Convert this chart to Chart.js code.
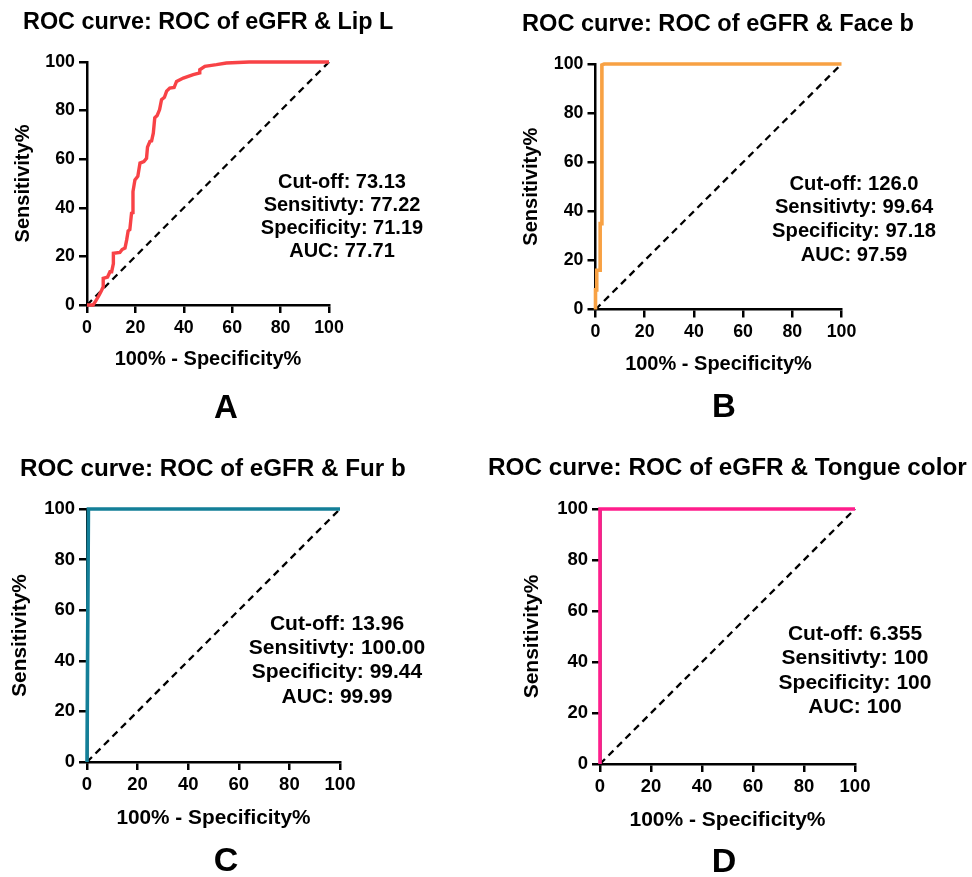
<!DOCTYPE html>
<html><head><meta charset="utf-8">
<script src="https://cdn.jsdelivr.net/npm/chart.js@4.4.0/dist/chart.umd.min.js"></script>
<style>
html,body{margin:0;padding:0;background:#fff;width:972px;height:877px;overflow:hidden}
canvas{position:absolute}
</style></head><body>
<canvas id="cA" width="486" height="438" style="left:0;top:0"></canvas>
<canvas id="cB" width="486" height="438" style="left:486px;top:0"></canvas>
<canvas id="cC" width="486" height="439" style="left:0;top:438px"></canvas>
<canvas id="cD" width="486" height="439" style="left:486px;top:438px"></canvas>
<script>
// ---- data ----
const axisTicks = [0, 20, 40, 60, 80, 100];
const diagX = [0, 100];
const diagY = [0, 100];

const fprA = [0, 2.5, 3.5, 5, 6, 6.7, 6.7, 8.5, 9.5, 10.2, 10.9, 10.9, 13.6, 14.5, 15.7, 16.4, 17, 17.7, 18.4, 19, 19, 19.8, 21, 21.9, 23.5, 24.6, 25, 26, 26.7, 27.4, 28, 29, 30, 30.8, 32, 32.9, 34.2, 36, 37, 39.8, 43.9, 46.6, 46.6, 48.7, 53.5, 57.6, 67, 100];
const tprA = [0, 0, 1.5, 4, 6, 7.5, 11, 11.5, 13.7, 13.7, 17, 21.3, 21.6, 22.8, 23.4, 26.8, 30.5, 31, 37.8, 38, 46.7, 51.5, 53, 58.4, 59, 60.4, 65, 67.3, 67.5, 70.7, 77, 78, 80.4, 84.5, 85.5, 88, 89.3, 89.5, 92, 93.4, 94.8, 95.5, 96.8, 98.2, 98.9, 99.6, 100, 100];

const fprB = [0, 0, 0.5, 0.5, 1.9, 1.9, 2.6, 2.6, 3.5, 100];
const tprB = [0, 8, 8, 16, 16, 35, 35, 99.6, 100, 100];

const fprC = [0, 0.56, 100];
const tprC = [0, 100, 100];

const fprD = [0, 0, 100];
const tprD = [0, 100, 100];

const titles = ['ROC curve: ROC of eGFR & Lip L', 'ROC curve: ROC of eGFR & Face b', 'ROC curve: ROC of eGFR & Fur b', 'ROC curve: ROC of eGFR & Tongue color'];
const statsA = ['Cut-off: 73.13', 'Sensitivty: 77.22', 'Specificity: 71.19', 'AUC: 77.71'];
const statsB = ['Cut-off: 126.0', 'Sensitivty: 99.64', 'Specificity: 97.18', 'AUC: 97.59'];
const statsC = ['Cut-off: 13.96', 'Sensitivty: 100.00', 'Specificity: 99.44', 'AUC: 99.99'];
const statsD = ['Cut-off: 6.355', 'Sensitivty: 100', 'Specificity: 100', 'AUC: 100'];
const letters = ['A', 'B', 'C', 'D'];
const xTitle = '100% - Specificity%';
const yTitle = 'Sensitivity%';

// ---- drawing ----
const FONT = "'Liberation Sans', Arial, Helvetica, sans-serif";

function makeChart(id, cfg) {
  const canvas = document.getElementById(id);
  const W = canvas.width, H = canvas.height;
  const a = cfg.area;
  const pts = cfg.fpr.map((x, i) => ({x: x, y: cfg.tpr[i]}));
  const diag = diagX.map((x, i) => ({x: x, y: diagY[i]}));
  const axisCommon = (isX) => ({
    type: 'linear', min: 0, max: 100,
    afterBuildTicks: s => { s.ticks = axisTicks.map(v => ({value: v})); },
    afterFit: s => { if (isX) s.height = H - a[3]; else s.width = a[0]; },
    grid: {drawOnChartArea: false, drawTicks: true, tickLength: 8, color: '#000', lineWidth: 2.5},
    border: {display: true, color: '#000', width: 2.5},
    ticks: {color: '#000', font: {family: FONT, weight: 'bold', size: cfg.tickSize}, padding: 4, maxRotation: 0, autoSkip: false},
    title: {display: true, text: isX ? xTitle : yTitle, color: '#000',
      font: {family: FONT, weight: 'bold', size: cfg.axisTitleSize, lineHeight: 1.2},
      padding: isX ? {top: 0, bottom: cfg.xTitlePad} : {top: cfg.yTitlePad, bottom: 0}}
  });
  const textPlugin = {
    id: 'panelText',
    afterDraw(chart) {
      const ctx = chart.ctx;
      ctx.save();
      ctx.fillStyle = '#000';
      ctx.textBaseline = 'middle';
      ctx.textAlign = 'left';
      ctx.font = 'bold ' + cfg.titleSize + 'px ' + FONT;
      ctx.fillText(cfg.title, cfg.titlePos[0], cfg.titlePos[1]);
      ctx.textAlign = 'center';
      ctx.font = 'bold ' + cfg.statSize + 'px ' + FONT;
      cfg.stats.forEach((t, i) => ctx.fillText(t, cfg.statPos[0], cfg.statPos[1] + i * cfg.statGap));
      ctx.font = 'bold ' + cfg.letterSize + 'px ' + FONT;
      ctx.fillText(cfg.letter, cfg.letterPos[0], cfg.letterPos[1]);
      ctx.restore();
    }
  };
  return new Chart(canvas, {
    type: 'line',
    data: {datasets: [
      {data: pts, borderColor: cfg.color, borderWidth: cfg.lw, pointRadius: 0, fill: false, tension: 0, clip: false, borderJoinStyle: 'miter'},
      {data: diag, borderColor: '#000', borderWidth: 2.3, borderDash: [7, 5], pointRadius: 0, fill: false, clip: false}
    ]},
    options: {
      responsive: false, animation: false, devicePixelRatio: 1,
      layout: {padding: {left: 0, top: a[1], right: W - a[2], bottom: 0}},
      plugins: {legend: {display: false}, tooltip: {enabled: false}, title: {display: false}},
      scales: {x: axisCommon(true), y: axisCommon(false)}
    },
    plugins: [textPlugin]
  });
}

makeChart('cA', {area: [87, 62, 329, 305], fpr: fprA, tpr: tprA, color: '#F84246', lw: 3.4,
  tickSize: 17.8, axisTitleSize: 20, xTitlePad: 67, yTitlePad: 11,
  title: titles[0], titleSize: 23.4, titlePos: [23, 23],
  stats: statsA, statSize: 20, statPos: [342, 182], statGap: 23,
  letter: letters[0], letterSize: 33, letterPos: [226, 409]});

makeChart('cB', {area: [109.5, 64, 355.5, 309.5], fpr: fprB, tpr: tprB, color: '#F8A143', lw: 3.6,
  tickSize: 17.8, axisTitleSize: 20, xTitlePad: 62, yTitlePad: 33,
  title: titles[1], titleSize: 23.6, titlePos: [36, 24],
  stats: statsB, statSize: 20.2, statPos: [368, 184], statGap: 23.7,
  letter: letters[1], letterSize: 33, letterPos: [238, 408]});

makeChart('cC', {area: [87, 71, 340, 324], fpr: fprC, tpr: tprC, color: '#137F98', lw: 3.6,
  tickSize: 18.5, axisTitleSize: 20.8, xTitlePad: 46, yTitlePad: 7.5,
  title: titles[2], titleSize: 24.2, titlePos: [20, 31],
  stats: statsC, statSize: 21, statPos: [337, 186], statGap: 24.3,
  letter: letters[2], letterSize: 34, letterPos: [226, 424]});

makeChart('cD', {area: [114, 71, 369, 326], fpr: fprD, tpr: tprD, color: '#FF1E8C', lw: 3.6,
  tickSize: 18.5, axisTitleSize: 21, xTitlePad: 44, yTitlePad: 33.4,
  title: titles[3], titleSize: 24.3, titlePos: [2, 30],
  stats: statsD, statSize: 21, statPos: [369, 196], statGap: 24.4,
  letter: letters[3], letterSize: 34, letterPos: [238, 425]});
</script>
</body></html>
